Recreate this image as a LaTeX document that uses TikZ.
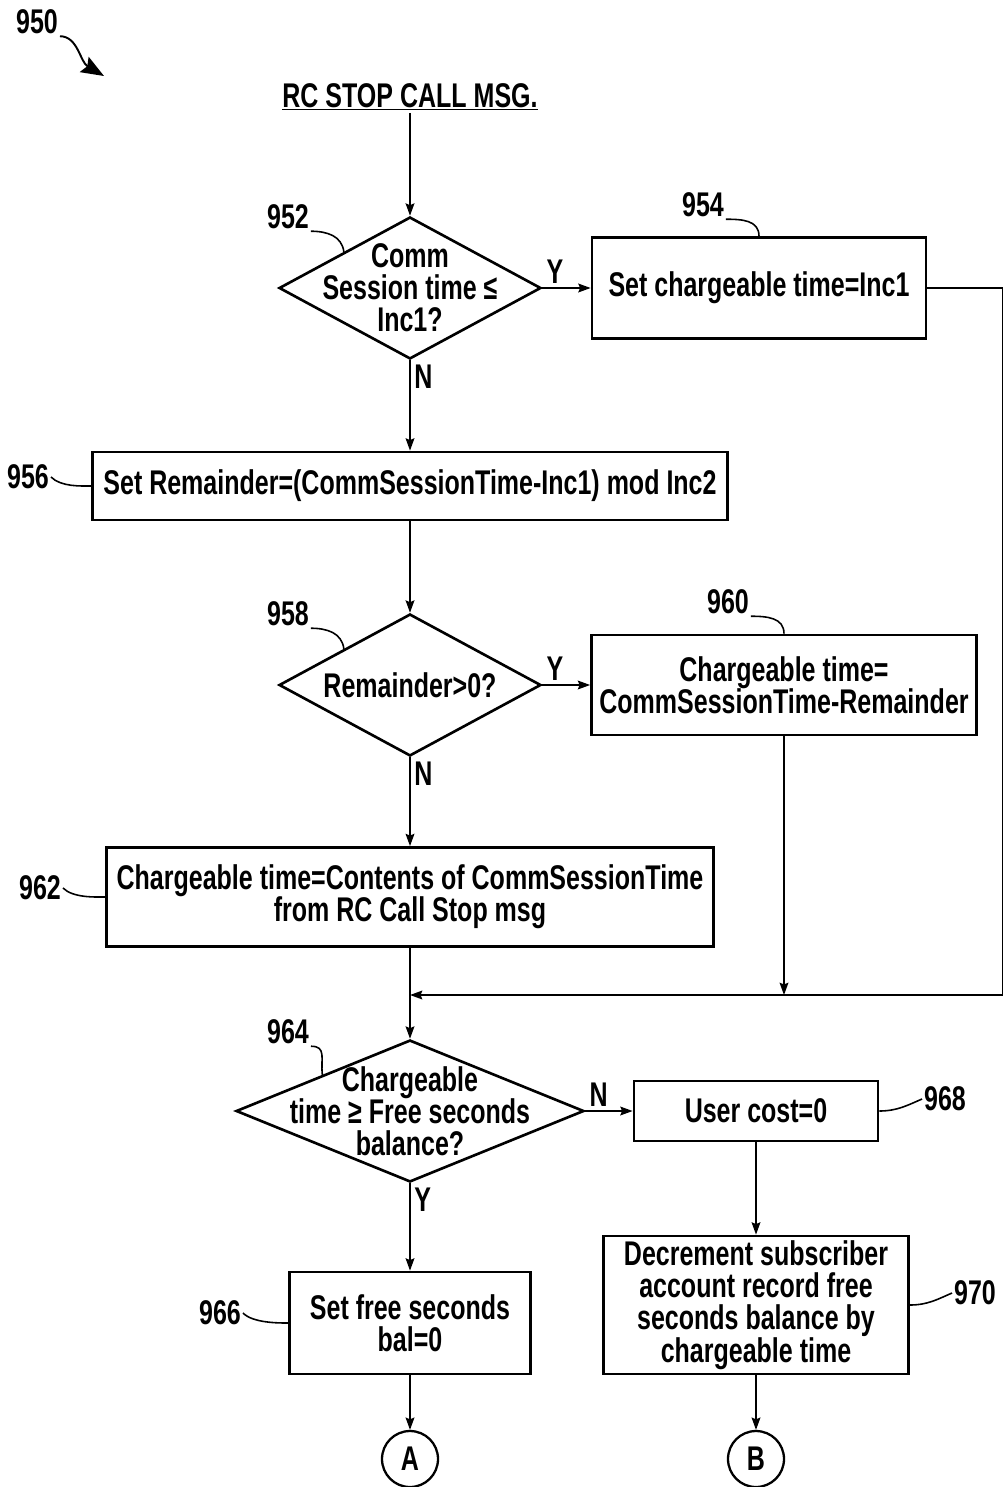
\documentclass[tikz,border=0pt]{standalone}
\usepackage{fontspec}
\setmainfont[UprightFont=* Bold, FakeStretch=0.73]{Liberation Sans}
\usepackage{tikz}
\usetikzlibrary{arrows.meta, positioning, shapes.geometric}
\tikzset{%
	process/.style={
		draw,
		line width=1.6pt,
		align=center,
		inner sep=0pt
	},
	decision/.style={
		diamond,
		draw,
		line width=1.5pt,
		inner sep=0pt
	},
	dtext/.style={
		align=center,
		inner sep=0pt
	},
	offpage/.style={
		circle,
		draw,
		line width=1.3pt,
		minimum size=1.12cm,
		inner sep=0pt
	},
	flow/.style={
		line width=0.9pt,
		-{Stealth[length=7pt,width=5pt,inset=1pt]}
	},
	leader/.style={
		line width=0.9pt
	},
	refnum/.style={inner sep=1pt},
	yn/.style={inner sep=2pt},
}

\begin{document}
\begin{tikzpicture}[x=0.02cm, y=-0.02cm, font=\fontsize{19.5}{18.3}\selectfont]
	% page frame
	\useasboundingbox (0,0) rectangle (1003,1487);

	% figure number
	\node[refnum] (l950) at (37,22) {950};
	\coordinate (p950) at (104,76);
	\draw[leader, line width=1.1pt, -{Stealth[length=13pt,width=10pt,inset=2pt]}] (l950.south east) .. controls +(18,0) and +(-24,-14) .. (p950);

	% start message
	\node[inner sep=1pt] (title) at (410,97) {\underline{RC STOP CALL MSG.}};

	% left column
	\node[decision, minimum width=5.24cm, minimum height=2.84cm,
		label={[dtext]center:Comm\\Session time ≤\\Inc1?}] (d952) at (410,288) {};
	\node[process, minimum width=12.7cm, minimum height=1.36cm] (b956) at (410,486)
		{Set Remainder=(CommSessionTime-Inc1) mod Inc2};
	\node[decision, minimum width=5.24cm, minimum height=2.84cm,
		label={[dtext]center:Remainder>0?}] (d958) at (410,685) {};
	\node[process, minimum width=12.14cm, minimum height=1.98cm] (b962) at (410,897)
		{Chargeable time=Contents of CommSessionTime\\from RC Call Stop msg};
	\node[decision, minimum width=6.96cm, minimum height=2.84cm,
		label={[dtext]center:Chargeable\\time ≥ Free seconds\\balance?}] (d964) at (410,1111) {};
	\node[process, minimum width=4.82cm, minimum height=2.04cm] (b966) at (410,1323)
		{Set free seconds\\bal=0};
	\node[offpage] (cA) at (410,1459) {A};

	% right column
	\node[process, minimum width=6.68cm, minimum height=2.02cm] (b954) at (759,288)
		{Set chargeable time=Inc1};
	\node[process, minimum width=7.7cm, minimum height=2.0cm] (b960) at (784,685)
		{Chargeable time=\\CommSessionTime-Remainder};
	\node[process, minimum width=4.88cm, minimum height=1.2cm] (b968) at (756,1111)
		{User cost=0};
	\node[process, minimum width=6.1cm, minimum height=2.76cm] (b970) at (756,1305)
		{Decrement subscriber\\account record free\\seconds balance by\\chargeable time};
	\node[offpage] (cB) at (756,1459) {B};

	% reference numerals
	\node[refnum] (l952) at (288,217) {952};
	\node[refnum] (l954) at (703,205) {954};
	\node[refnum] (l956) at (28,477) {956};
	\node[refnum] (l958) at (288,614) {958};
	\node[refnum] (l960) at (728,602) {960};
	\node[refnum] (l962) at (40,888) {962};
	\node[refnum] (l964) at (288,1032) {964};
	\node[refnum] (l966) at (220,1313) {966};
	\node[refnum] (l968) at (945,1099) {968};
	\node[refnum] (l970) at (975,1293) {970};

	% leaders
	\foreach \n in {952,958,964} {
		\draw[leader] (l\n.south east) .. controls +(16,0) and +(-2,-16) .. (d\n.north west);
	}
	\foreach \n in {954,960} {
		\draw[leader] (l\n.south east) .. controls +(16,0) and +(0,-16) .. (b\n.north);
	}
	\foreach \n in {956,962,966} {
		\draw[leader] (l\n.east) .. controls +(10,10) and +(-10,0) .. (b\n.west);
	}
	\foreach \n in {968,970} {
		\draw[leader] (b\n.east) .. controls +(18,0) and +(-14,6) .. (l\n.west);
	}

	% connectors
	\coordinate (merge) at (410,995);
	\draw[flow] (title) -- (d952);
	\draw[flow] (d952) -- node[yn, at start, above right] {Y} (b954);
	\draw[flow] (d952) -- node[yn, at start, below right] {N} (b956);
	\draw[flow] (b956) -- (d958);
	\draw[flow] (d958) -- node[yn, at start, above right] {Y} (b960);
	\draw[flow] (d958) -- node[yn, at start, below right] {N} (b962);
	\draw[flow] (b962) -- (d964);
	\draw[flow] (b954.east) -- ++(75,0) |- (merge);
	\draw[flow] (b960.south) -- (b960.south |- merge);
	\draw[flow] (d964) -- node[yn, at start, above right] {N} (b968);
	\draw[flow] (d964) -- node[yn, at start, below right] {Y} (b966);
	\draw[flow] (b968) -- (b970);
	\draw[flow] (b966) -- (cA);
	\draw[flow] (b970) -- (cB);
\end{tikzpicture}
\end{document}
